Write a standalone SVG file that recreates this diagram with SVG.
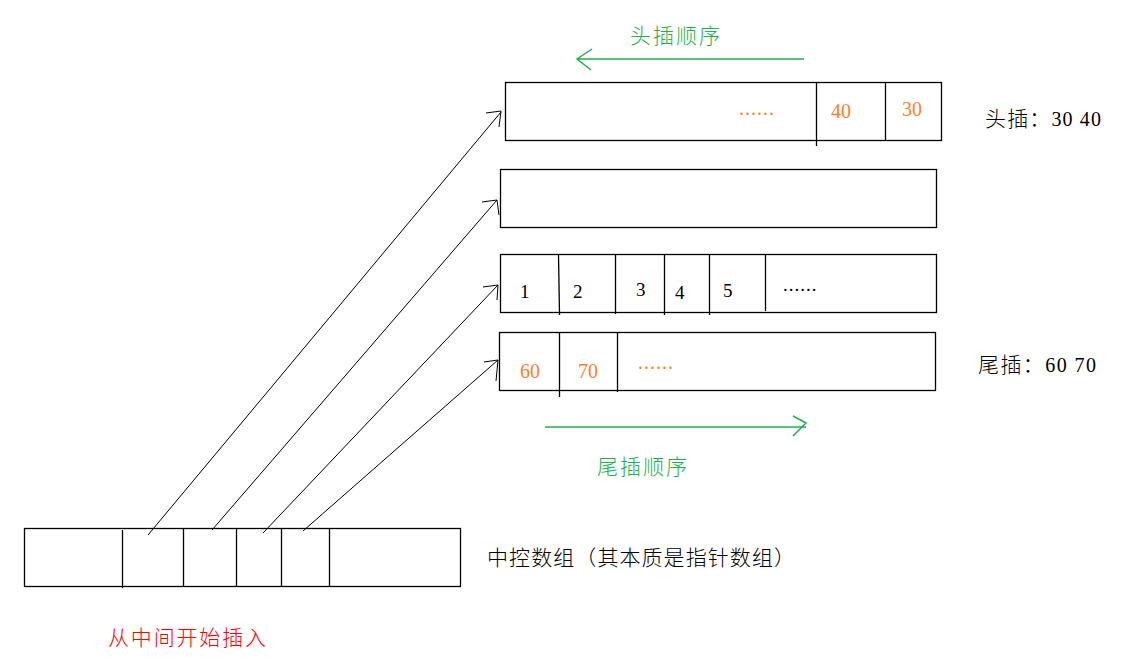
<svg xmlns="http://www.w3.org/2000/svg" width="1136" height="660" viewBox="0 0 1136 660">
<style>
.box{fill:none;stroke:#000;stroke-width:1.3}
.div{stroke:#000;stroke-width:1.3}
.conn{stroke:#000;stroke-width:1;fill:none}
.num{font-family:"Liberation Serif",serif;font-size:19px;fill:#000}
.org{font-family:"Liberation Serif",serif;font-size:20px;fill:#ff7f27}
.cjk{font-family:"Liberation Serif","Noto Sans CJK SC",serif;font-size:21px;font-weight:300}
.grn{stroke:#22b14c;stroke-width:1.5;fill:none}
</style>
<rect width="1136" height="660" fill="#fff"/>
<g id="box-head">
<rect class="box" x="505.5" y="82.5" width="436" height="58"/>
<line class="div" x1="816.5" y1="82" x2="816.5" y2="146"/>
<line class="div" x1="885.5" y1="82" x2="885.5" y2="140"/>
<text class="org" x="739" y="115" letter-spacing="1">......</text>
<text class="org" x="831" y="118">40</text>
<text class="org" x="902" y="116">30</text>
</g>
<g id="box-empty">
<rect class="box" x="500.5" y="169.5" width="436" height="58"/>
</g>
<g id="box-nums">
<rect class="box" x="500.5" y="254.5" width="436" height="58"/>
<line class="div" x1="558.5" y1="254" x2="559.5" y2="315"/>
<line class="div" x1="615.5" y1="254" x2="615.5" y2="314"/>
<line class="div" x1="664.5" y1="254" x2="664.5" y2="315"/>
<line class="div" x1="709.5" y1="254" x2="709.5" y2="315"/>
<line class="div" x1="765.5" y1="254" x2="765.5" y2="311"/>
<text class="num" x="520" y="298">1</text>
<text class="num" x="573" y="298">2</text>
<text class="num" x="636" y="296">3</text>
<text class="num" x="675" y="299">4</text>
<text class="num" x="723" y="297">5</text>
<text class="num" x="783" y="291" letter-spacing="1">......</text>
</g>
<g id="box-tail">
<rect class="box" x="499.5" y="332.5" width="436" height="58"/>
<line class="div" x1="559.5" y1="332" x2="559.5" y2="397"/>
<line class="div" x1="617.5" y1="332" x2="617.5" y2="392"/>
<text class="org" x="520" y="378">60</text>
<text class="org" x="578" y="378">70</text>
<text class="org" x="638" y="369" letter-spacing="1">......</text>
</g>
<g id="central-array">
<rect class="box" x="24.5" y="528.5" width="436" height="58"/>
<line class="div" x1="122.5" y1="530" x2="122.5" y2="588"/>
<line class="div" x1="183.5" y1="528" x2="183.5" y2="586"/>
<line class="div" x1="236.5" y1="528" x2="236.5" y2="586"/>
<line class="div" x1="281.5" y1="528" x2="281.5" y2="586"/>
<line class="div" x1="329.5" y1="528" x2="329.5" y2="586"/>
</g>
<g id="labels">
<text class="cjk" x="985" y="126" fill="#000" textLength="116" lengthAdjust="spacing">头插：<tspan font-size="20">30 40</tspan></text>
<text class="cjk" x="978" y="372" fill="#000" textLength="118" lengthAdjust="spacing">尾插：<tspan font-size="20">60 70</tspan></text>
<text class="cjk" x="487" y="565" fill="#000" textLength="308" lengthAdjust="spacing">中控数组（其本质是指针数组）</text>
<text class="cjk" x="108" y="645" fill="#ff0000" textLength="158" lengthAdjust="spacing">从中间开始插入</text>
<text class="cjk" x="630" y="43" fill="#22b14c" textLength="90" lengthAdjust="spacing">头插顺序</text>
<text class="cjk" x="597" y="474" fill="#22b14c" textLength="90" lengthAdjust="spacing">尾插顺序</text>
</g>
<g id="connectors">
<path class="conn" d="M148,535 L501,112 M486,113 L501,111 L499,127"/>
<path class="conn" d="M212,530 L497,200 M482,202 L497,200 L499,215"/>
<path class="conn" d="M263,533 L498,285 M483,287 L498,285 L497,300"/>
<path class="conn" d="M303,531 L498,360 M484,362 L498,360 L496,381"/>
<path class="grn" d="M804,59 L577,59 M592,49 L577,59 L591,70"/>
<path class="grn" d="M545,427 L806,427 M793,416 L806,423 L793,436"/>
</g>
</svg>
